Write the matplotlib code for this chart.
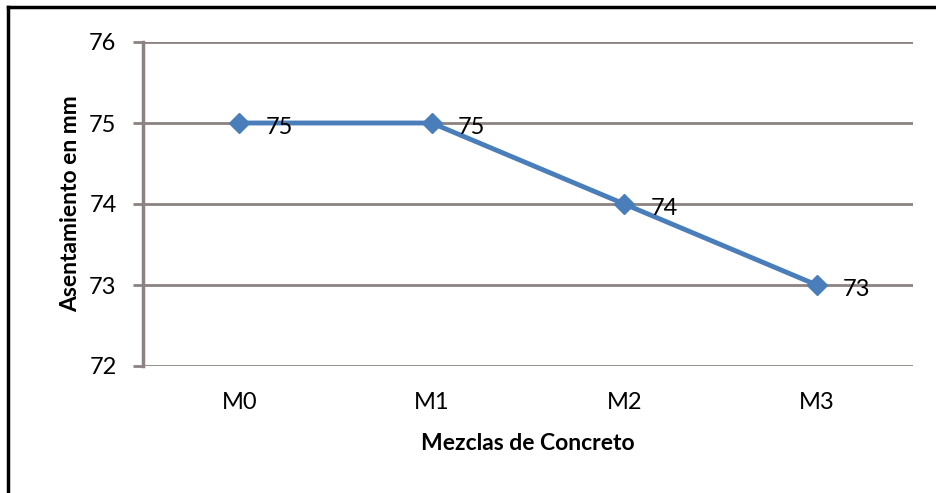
import matplotlib.pyplot as plt
from matplotlib.lines import Line2D

plt.rcParams['font.family'] = ['Lato', 'DejaVu Sans']

# data
mezclas = ['M0', 'M1', 'M2', 'M3']
asentamiento = [75, 75, 74, 73]

line_color = '#4a7ebb'
grid_color = '#8c8282'

fig = plt.figure(figsize=(9.36, 4.93), dpi=100)
ax = fig.add_axes([143 / 936, 1 - 366 / 493, 770 / 936, 324 / 493])

x = range(len(mezclas))
ax.plot(x, asentamiento, color=line_color, linewidth=3.5, marker='D',
        markersize=10, zorder=3)
for xi, v in zip(x, asentamiento):
    ax.annotate(str(v), (xi, v), xytext=(19, -3), textcoords='offset points',
                ha='left', va='center', fontsize=17, color='black', zorder=4)

ax.set_xlim(-0.5, len(mezclas) - 0.5)
ax.set_ylim(72, 76)
ax.set_yticks([72, 73, 74, 75, 76])
ax.set_xticks(list(x))
ax.set_xticklabels(mezclas)

ax.grid(axis='y', color=grid_color, linewidth=2, zorder=1)
ax.set_axisbelow(True)
for s in ['top', 'right', 'bottom']:
    ax.spines[s].set_visible(False)
ax.spines['left'].set_color(grid_color)
ax.spines['left'].set_linewidth(2.5)

ax.tick_params(axis='y', length=7, width=2, color=grid_color, labelsize=17,
               pad=12)
ax.tick_params(axis='x', length=0, labelsize=17, pad=19)

ax.set_xlabel('Mezclas de Concreto', fontsize=16.5, fontweight='bold', labelpad=14)
ax.set_ylabel('Asentamiento en mm', fontsize=16.5, fontweight='bold', labelpad=6)

# outer border (top and left visible)
fig.add_artist(Line2D([8 / 936, 8 / 936], [0, 1 - 7 / 493], color='black',
                      linewidth=2.5, transform=fig.transFigure))
fig.add_artist(Line2D([8 / 936, 1], [1 - 7 / 493, 1 - 7 / 493], color='black',
                      linewidth=2.5, transform=fig.transFigure))

fig.savefig('out.png', dpi=100)
